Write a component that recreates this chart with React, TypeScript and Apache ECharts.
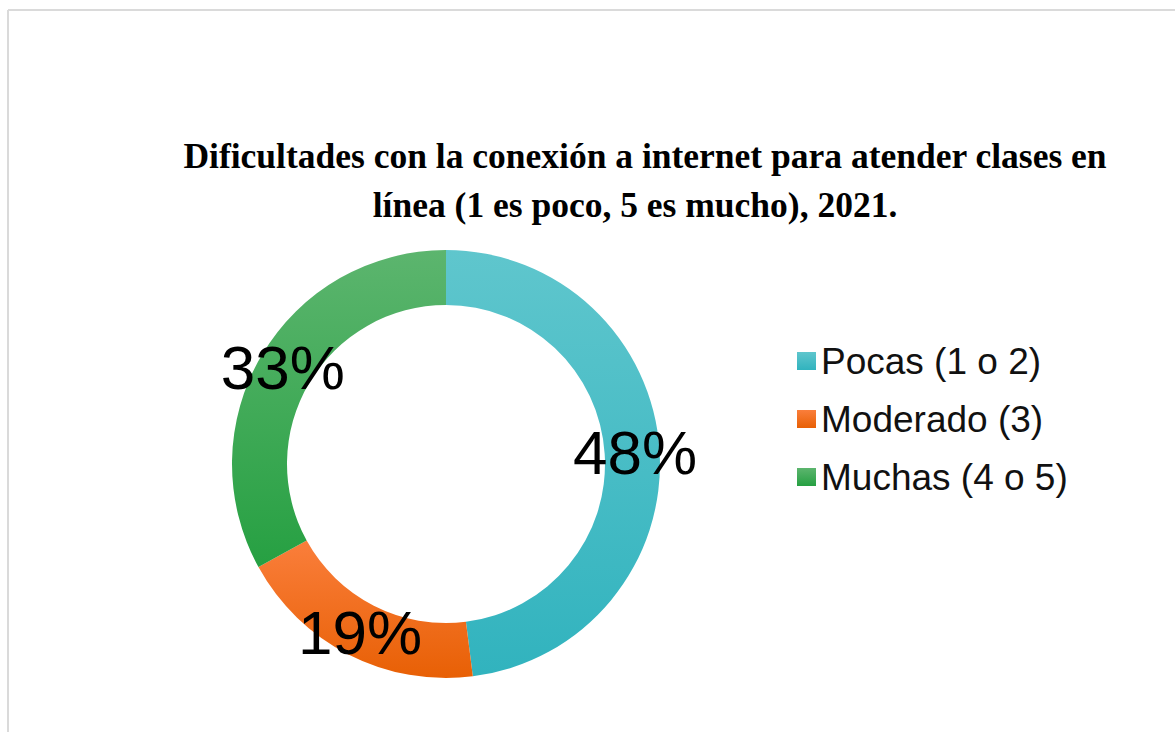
import React, { useEffect, useRef } from "react";
import * as echarts from "echarts";

const titleLines = [
  "Dificultades con la conexión a internet para atender clases en",
  "línea (1 es poco, 5 es mucho), 2021.",
];
const categories = ["Pocas (1 o 2)", "Moderado (3)", "Muchas (4 o 5)"];
const values = [48, 19, 33];
const colorTops = ["#5fc6cd", "#fa7e3b", "#5cb56e"];
const colorBottoms = ["#31b3be", "#e86005", "#26a042"];

export default function App() {
  const ref = useRef<HTMLDivElement>(null);
  useEffect(() => {
    if (!ref.current) return;
    const chart = echarts.init(ref.current, null, { renderer: "svg" });
    const data = categories.map((name, i) => ({
      name,
      value: values[i],
      itemStyle: {
        color: new echarts.graphic.LinearGradient(0, 0, 0, 1, [
          { offset: 0, color: colorTops[i] },
          { offset: 1, color: colorBottoms[i] },
        ]),
      },
    }));
    const titleStyle = {
      fontFamily: "Liberation Serif",
      fontWeight: "bold",
      fontSize: 35.5,
      lineHeight: 44,
      color: "#000000",
    };
    chart.setOption({
      animation: false,
      backgroundColor: "#ffffff",
      title: [
        {
          text: titleLines[0],
          left: 640,
          top: 129,
          textAlign: "center",
          textStyle: titleStyle,
        },
        {
          text: titleLines[1],
          left: 630,
          top: 178,
          textAlign: "center",
          textStyle: titleStyle,
        },
      ],
      legend: {
        orient: "vertical",
        left: 792,
        top: 336,
        itemWidth: 19,
        itemHeight: 18,
        itemGap: 18,
        icon: "rect",
        textStyle: {
          fontFamily: "Liberation Sans",
          fontSize: 37,
          lineHeight: 40,
          color: "#111111",
        },
        data: categories,
      },
      graphic: [
        {
          type: "line",
          shape: { x1: 8, y1: 10, x2: 1175, y2: 10 },
          style: { stroke: "#dadada", lineWidth: 2 },
        },
        {
          type: "line",
          shape: { x1: 8, y1: 10, x2: 8, y2: 732 },
          style: { stroke: "#dadada", lineWidth: 2 },
        },
      ],
      series: [
        {
          type: "pie",
          center: [446, 464],
          radius: [159, 214],
          startAngle: 90,
          clockwise: true,
          percentPrecision: 0,
          label: {
            show: true,
            position: "inside",
            formatter: "{d}%",
            fontFamily: "Liberation Sans",
            fontSize: 62,
            color: "#000000",
          },
          labelLine: { show: false },
          emphasis: { disabled: true },
          data,
        },
      ],
    });
    return () => chart.dispose();
  }, []);
  return (
    <div
      ref={ref}
      style={{ position: "fixed", left: 0, top: 0, width: 1175, height: 732 }}
    />
  );
}
